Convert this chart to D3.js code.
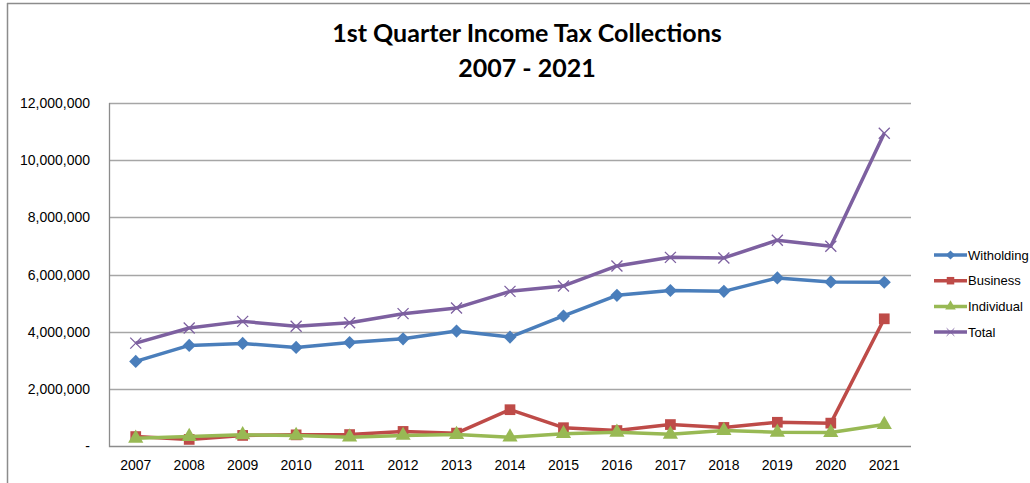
<!DOCTYPE html>
<html>
<head>
<meta charset="utf-8">
<style>
  body { margin: 0; background: #fff; }
  svg text { font-family: "Liberation Sans", Arial, sans-serif; fill: #000; }
  .title { font-family: Lato, "Open Sans", sans-serif; font-weight: 700; font-size: 25px; }
  .grid line { stroke: #a6a6a6; stroke-width: 1.3px; }
  .axis text { font-size: 14px; }
  .series path.ln { fill: none; stroke-width: 3.5px; stroke-linejoin: round; }
  .legend text { font-size: 13px; }
</style>
</head>
<body>
<script src="https://cdnjs.cloudflare.com/ajax/libs/d3/7.8.5/d3.min.js"></script>
<script>
// data
var years = ["2007","2008","2009","2010","2011","2012","2013","2014","2015","2016","2017","2018","2019","2020","2021"];
var withholding = [2960000, 3520000, 3590000, 3450000, 3620000, 3750000, 4020000, 3810000, 4550000, 5270000, 5440000, 5410000, 5880000, 5740000, 5730000];
var business    = [330000, 230000, 370000, 390000, 400000, 510000, 450000, 1270000, 640000, 540000, 750000, 650000, 830000, 800000, 4450000];
var individual  = [270000, 330000, 390000, 370000, 310000, 370000, 400000, 310000, 430000, 480000, 410000, 540000, 480000, 470000, 750000];
var total       = [3600000, 4130000, 4360000, 4190000, 4310000, 4630000, 4830000, 5410000, 5600000, 6300000, 6600000, 6580000, 7200000, 6990000, 10940000];
var yTicks = [0, 2000000, 4000000, 6000000, 8000000, 10000000, 12000000];

var series = [
  { name: "Witholding", values: withholding, color: "#4a7ebb", marker: "diamond" },
  { name: "Business",   values: business,    color: "#be4b48", marker: "square" },
  { name: "Individual", values: individual,  color: "#98b954", marker: "triangle" },
  { name: "Total",      values: total,       color: "#7d60a0", marker: "cross" }
];

var W = 1030, H = 483;
var plot = { left: 109, right: 911, top: 103, bottom: 446 };

var svg = d3.select("body").append("svg")
    .attr("width", W)
    .attr("height", H);

// outer chart border (cropped: only top and left visible)
svg.append("line").attr("x1", 7).attr("x2", W).attr("y1", 3.5).attr("y2", 3.5)
    .attr("stroke", "#8c8c8c").attr("stroke-width", 1.5);
svg.append("line").attr("x1", 7.5).attr("x2", 7.5).attr("y1", 3).attr("y2", H)
    .attr("stroke", "#8c8c8c").attr("stroke-width", 1.5);

svg.append("text").attr("class", "title").attr("x", 527).attr("y", 42)
    .attr("text-anchor", "middle").text("1st Quarter Income Tax Collections");
svg.append("text").attr("class", "title").attr("x", 527).attr("y", 77)
    .attr("text-anchor", "middle").text("2007 - 2021");

var x = d3.scaleBand().domain(years).range([plot.left, plot.right]);
var y = d3.scaleLinear().domain([0, 12000000]).range([plot.bottom, plot.top]);
var cx = function(i) { return x(years[i]) + x.bandwidth() / 2; };

// gridlines
svg.append("g").attr("class", "grid")
  .selectAll("line").data(yTicks.slice(1)).enter().append("line")
    .attr("x1", plot.left).attr("x2", plot.right)
    .attr("y1", function(d) { return Math.round(y(d)) + 0.5; })
    .attr("y2", function(d) { return Math.round(y(d)) + 0.5; });

// plot area left + bottom border
svg.append("path")
    .attr("d", "M" + (plot.left + 0.5) + "," + plot.top + "V" + (plot.bottom + 0.5) + "H" + plot.right)
    .attr("fill", "none").attr("stroke", "#8c8c8c").attr("stroke-width", 1.3);

// y axis labels
var fmt = d3.format(",");
svg.append("g").attr("class", "axis")
  .selectAll("text").data(yTicks).enter().append("text")
    .attr("x", 90)
    .attr("y", function(d) { return y(d) + 5; })
    .attr("text-anchor", "end")
    .text(function(d) { return d === 0 ? "-" : fmt(d); });

// x axis labels
svg.append("g").attr("class", "axis")
  .selectAll("text").data(years).enter().append("text")
    .attr("x", function(d) { return x(d) + x.bandwidth() / 2; })
    .attr("y", 470)
    .attr("text-anchor", "middle")
    .text(function(d) { return d; });

var symbols = {
  diamond: d3.symbol().type(d3.symbolDiamond2).size(110),
  square: d3.symbol().type(d3.symbolSquare).size(115),
  triangle: d3.symbol().type(d3.symbolTriangle).size(100)
};

function drawMarker(g, type, color) {
  if (type === "cross") {
    g.append("path")
        .attr("d", "M-5.5,-5.5L5.5,5.5M-5.5,5.5L5.5,-5.5")
        .style("stroke", color).style("stroke-width", "1.3px").style("fill", "none");
  } else {
    g.append("path").attr("d", symbols[type]()).style("fill", color).style("stroke", "none");
  }
}

var line = d3.line()
    .x(function(d, i) { return cx(i); })
    .y(function(d) { return y(d); });

series.forEach(function(s) {
  var g = svg.append("g").attr("class", "series");
  g.append("path").attr("class", "ln").attr("d", line(s.values)).attr("stroke", s.color);
  g.selectAll("g.m").data(s.values).enter().append("g")
      .attr("class", "m")
      .attr("transform", function(d, i) { return "translate(" + cx(i) + "," + y(d) + ")"; })
      .each(function() { drawMarker(d3.select(this), s.marker, s.color); });
});

// legend
var legend = svg.append("g").attr("class", "legend");
series.forEach(function(s, i) {
  var ly = 255 + i * 25.7;
  var g = legend.append("g").attr("transform", "translate(0," + ly + ")");
  g.append("line").attr("x1", 934).attr("x2", 967).attr("y1", 0).attr("y2", 0)
      .attr("stroke", s.color).attr("stroke-width", 3.5);
  var m = g.append("g").attr("transform", "translate(950.5,0) scale(0.7)");
  drawMarker(m, s.marker, s.color);
  g.append("text").attr("x", 968).attr("y", 4.5).text(s.name);
});
</script>
</body>
</html>
